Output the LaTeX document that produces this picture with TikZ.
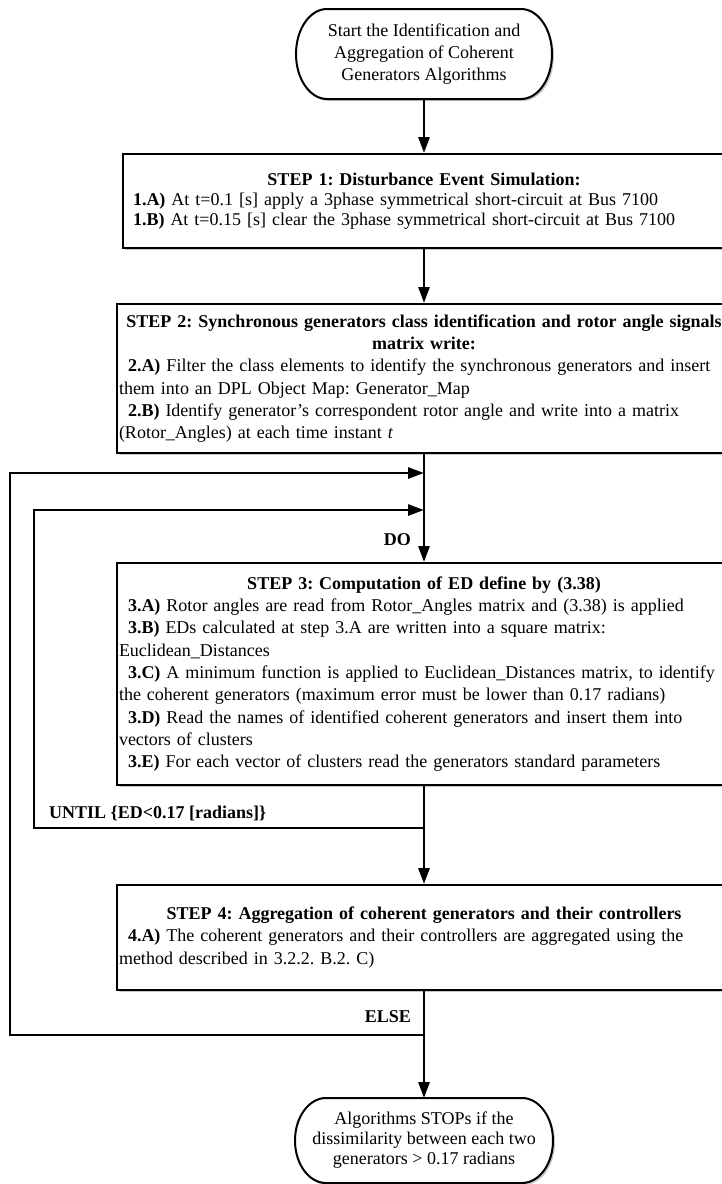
\documentclass[tikz,border=0pt]{standalone}
\usepackage{fontspec}
\setmainfont{Liberation Serif}
\usetikzlibrary{arrows.meta,backgrounds}
\frenchspacing

\begin{document}
\begin{tikzpicture}[x=1pt,y=-1pt,
  box/.style={draw, line width=2pt, fill=white, rectangle, outer sep=1pt,
     preaction={fill=black!22, transform canvas={shift={(2pt,-2pt)}}},
     font=\fontsize{18}{22.3}\selectfont, inner ysep=0pt, inner xsep=2pt, text width=610pt},
  term/.style={rectangle, inner sep=0pt, outer sep=0pt, align=center, font=\fontsize{18}{22}\selectfont},
  termline/.style={fill=white, line width=2pt, preaction={fill=black!22, transform canvas={shift={(2pt,-2pt)}}}},
  flow/.style={line width=2.8pt},
  arr/.style={flow, -{Triangle[length=16pt,width=11pt]}},
  lbl/.style={font=\fontsize{18}{22}\selectfont\bfseries, inner sep=0pt},
]
\useasboundingbox (0,0) rectangle (721,1184);

% terminals
\node[term, minimum width=256pt, minimum height=90pt] (start) at (424,54)
  {Start the Identification and\\Aggregation of Coherent\\Generators Algorithms};
\node[term, minimum width=258pt, minimum height=85pt, font=\fontsize{18}{20}\selectfont] (stop) at (424,1140.5)
  {Algorithms STOPs if the\\dissimilarity between each two\\generators > 0.17 radians};
\begin{scope}[on background layer]
\filldraw[termline]
  ([xshift=31pt]start.north west) -- ([xshift=-31pt]start.north east)
  arc[start angle=90,end angle=-90,x radius=31pt,y radius=45pt]
  -- ([xshift=31pt]start.south west)
  arc[start angle=270,end angle=90,x radius=31pt,y radius=45pt] -- cycle;
\filldraw[termline]
  ([xshift=31pt]stop.north west) -- ([xshift=-31pt]stop.north east)
  arc[start angle=90,end angle=-90,x radius=31pt,y radius=42.5pt]
  -- ([xshift=31pt]stop.south west)
  arc[start angle=270,end angle=90,x radius=31pt,y radius=42.5pt] -- cycle;
\end{scope}

% step boxes
\node[box, text width=582pt, inner xsep=10pt, minimum height=94pt, font=\fontsize{18}{19.7}\selectfont] (s1) at (424,201)
  {\centering\textbf{STEP 1: Disturbance Event Simulation:}\par
   \raggedright\textbf{1.A)} At t=0.1 [s] apply a 3phase symmetrical short-circuit at Bus 7100\\
   \textbf{1.B)} At t=0.15 [s] clear the 3phase symmetrical short-circuit at Bus 7100};

\node[box, minimum height=149pt] (s2) at (424,378.5)
  {\centering\textbf{STEP 2: Synchronous generators class identification and rotor angle signals\\matrix write:}\par
   \raggedright\hspace*{9pt}\textbf{2.A)} Filter the class elements to identify the synchronous generators and insert\\
   them into an DPL Object Map: Generator\_Map\\
   \hspace*{9pt}\textbf{2.B)} Identify generator’s correspondent rotor angle and write into a matrix\\
   (Rotor\_Angles) at each time instant \textit{t}};

\node[box, minimum height=222pt] (s3) at (424,674)
  {\centering\textbf{STEP 3: Computation of ED define by (3.38)}\par
   \raggedright\hspace*{9pt}\textbf{3.A)} Rotor angles are read from Rotor\_Angles matrix and (3.38) is applied\\
   \hspace*{9pt}\textbf{3.B)} EDs calculated at step 3.A are written into a square matrix:\\
   Euclidean\_Distances\\
   \hspace*{9pt}\textbf{3.C)} A minimum function is applied to Euclidean\_Distances matrix, to identify\\
   the coherent generators (maximum error must be lower than 0.17 radians)\\
   \hspace*{9pt}\textbf{3.D)} Read the names of identified coherent generators and insert them into\\
   vectors of clusters\\
   \hspace*{9pt}\textbf{3.E)} For each vector of clusters read the generators standard parameters};

\node[box, minimum height=105pt] (s4) at (424,937.5)
  {\centering\textbf{STEP 4: Aggregation of coherent generators and their controllers}\par
   \raggedright\hspace*{9pt}\textbf{4.A)} The coherent generators and their controllers are aggregated using the\\
   method described in 3.2.2. B.2. C)};

% main flow
\draw[arr] (start.south) -- (s1.north);
\draw[arr] (s1.south) -- (s2.north);
\draw[arr] (s2.south) -- (s3.north);
\draw[arr] (s3.south) -- (s4.north);
\draw[arr] (s4.south) -- (stop.north);

% loops
\coordinate (j1) at (424,473);
\coordinate (j2) at (424,510);
\coordinate (j3) at (424,828);
\coordinate (j4) at (424,1035);
\coordinate (o1) at (10,1035);
\coordinate (o2) at (10,473);
\coordinate (i1) at (34,828);
\coordinate (i2) at (34,510);
\draw[arr] (j4) -- (o1) -- (o2) -- (j1);
\draw[arr] (j3) -- (i1) -- (i2) -- (j2);

% labels
\node[lbl, anchor=base east] (do) at (411,545) {DO};
\node[lbl, anchor=base west] (until) at (49,818) {UNTIL \{ED<0.17 [radians]\}};
\node[lbl, anchor=base east] (else) at (411,1022) {ELSE};
\end{tikzpicture}
\end{document}
